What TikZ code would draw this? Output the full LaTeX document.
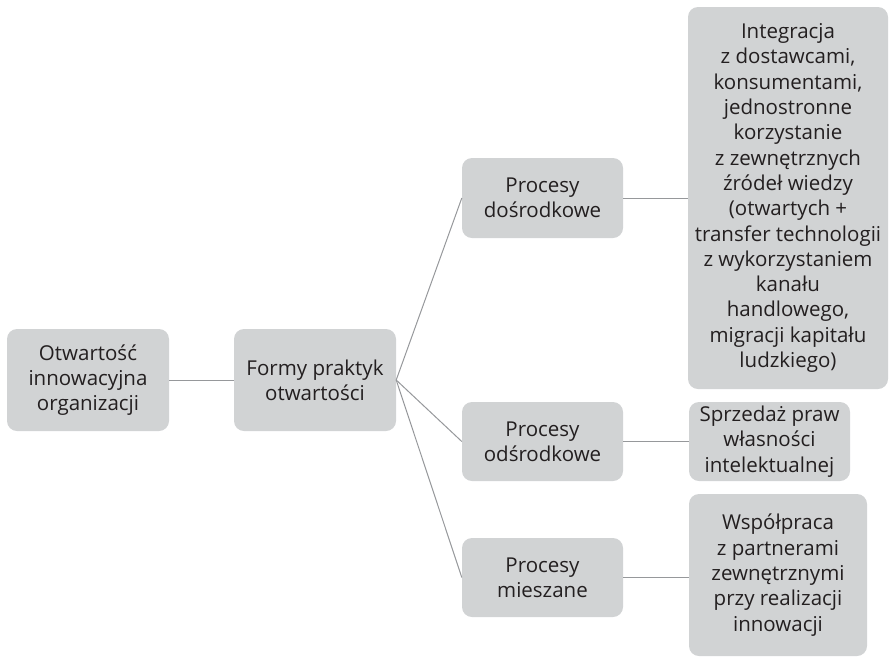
\documentclass[tikz,border=0pt]{standalone}
\usepackage{fontspec}
\setmainfont{Open Sans}
\definecolor{boxfill}{RGB}{209,211,212}
\definecolor{linegray}{RGB}{150,152,155}
\definecolor{txt}{RGB}{35,31,32}
\begin{document}
\begin{tikzpicture}[x=1pt,y=-1pt,
  box/.style={fill=boxfill, rounded corners=10pt, align=center, text=txt,
    font=\fontsize{20.5}{25.3}\selectfont, inner sep=0pt},
  conn/.style={draw=linegray, line width=1pt}]
\useasboundingbox (0,0) rectangle (893,657);
\node[box, minimum width=162pt, minimum height=102pt] (b1) at (88,380) {Otwartość\\innowacyjna\\organizacji};
\node[box, minimum width=162pt, minimum height=102pt] (b2) at (315,380) {Formy praktyk\\otwartości};
\node[box, minimum width=161pt, minimum height=80pt] (b3) at (542.5,198) {Procesy\\dośrodkowe};
\node[box, minimum width=200pt, minimum height=382pt] (b4) at (788,198) {Integracja\\z dostawcami,\\konsumentami,\\jednostronne\\korzystanie\\z zewnętrznych\\źródeł wiedzy\\(otwartych +\\transfer technologii\\z wykorzystaniem\\kanału\\handlowego,\\migracji kapitału\\ludzkiego)};
\node[box, minimum width=161pt, minimum height=79pt] (b5) at (542.5,441.5) {Procesy\\odśrodkowe};
\node[box, minimum width=161pt, minimum height=79pt] (b6) at (769.5,441.5) {Sprzedaż praw\\własności\\intelektualnej};
\node[box, minimum width=161pt, minimum height=79pt] (b7) at (542.5,577.5) {Procesy\\mieszane};
\node[box, minimum width=178pt, minimum height=162pt] (b8) at (778,575) {Współpraca\\z partnerami\\zewnętrznymi\\przy realizacji\\innowacji};
\draw[conn] (b1.east) -- (b2.west);
\draw[conn] (b2.east) -- (b3.west);
\draw[conn] (b2.east) -- (b5.west);
\draw[conn] (b2.east) -- (b7.west);
\draw[conn] (b3.east) -- (b3.east -| b4.west);
\draw[conn] (b5.east) -- (b6.west);
\draw[conn] (b7.east) -- (b7.east -| b8.west);
\end{tikzpicture}
\end{document}
